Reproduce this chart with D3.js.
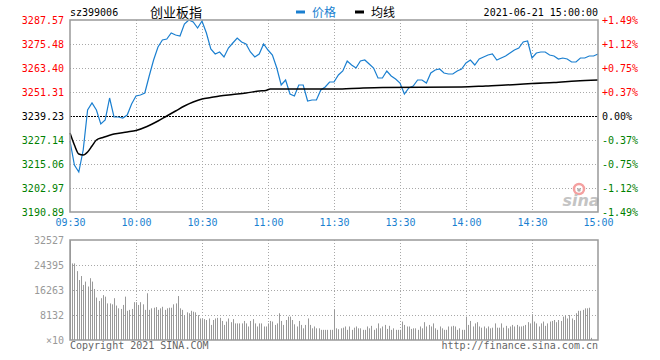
<!DOCTYPE html>
<html>
<head>
<meta charset="utf-8">
<script src="https://cdn.jsdelivr.net/npm/d3@7/dist/d3.min.js"></script>
<style>
  body { margin: 0; background: #fff; }
  svg { display: block; }
  text { font-family: "DejaVu Sans Mono", "Liberation Mono", monospace; font-size: 10px; }
</style>
</head>
<body>
<div id="chart"></div>
<script>
const prevClose = 3239.23;
const priceTicks = [3287.57, 3275.48, 3263.40, 3251.31, 3239.23, 3227.14, 3215.06, 3202.97, 3190.89];
const pctTicks = ['+1.49%', '+1.12%', '+0.75%', '+0.37%', '0.00%', '-0.37%', '-0.75%', '-1.12%', '-1.49%'];
const timeTicks = [0, 30, 60, 90, 120, 150, 180, 210, 240];
const timeLabels = ['09:30', '10:00', '10:30', '11:00', '11:30', '13:30', '14:00', '14:30', '15:00'];
const volTicks = [32527, 24395, 16263, 8132, 0];
const volLabels = ['32527', '24395', '16263', '8132', '×10'];

// price, one sample every 2 minutes (09:30 .. 15:00)
const priceAM = [
  3226.64, 3214.56, 3211.03, 3222.11, 3242.25, 3245.78, 3242.25, 3235.20, 3237.22, 3248.29,
  3238.73, 3238.73, 3238.22, 3239.73, 3245.27, 3249.30, 3249.80, 3250.81, 3259.37, 3267.43,
  3273.97, 3277.50, 3278.00, 3281.02, 3280.02, 3279.51, 3285.56, 3287.57, 3286.56, 3283.54,
  3287.07, 3281.02, 3272.97, 3270.45, 3271.46, 3268.94, 3273.47, 3275.99, 3278.51, 3276.49,
  3275.48, 3271.46, 3268.94, 3270.45, 3275.48, 3272.46, 3269.95, 3263.40, 3254.84, 3257.36,
  3250.31, 3249.30, 3254.84, 3254.84, 3246.78, 3247.29, 3247.29, 3252.32, 3253.83, 3256.35,
  3256.35
];
const pricePM = [
  3259.88, 3261.89, 3266.92, 3264.91, 3263.40, 3266.92, 3267.43, 3265.41, 3263.40, 3258.36,
  3258.36, 3261.89, 3259.37, 3257.86, 3255.85, 3250.31, 3253.33, 3254.34, 3257.36, 3257.36,
  3255.85, 3260.88, 3262.39, 3262.90, 3260.88, 3260.38, 3260.38, 3261.89, 3262.90, 3265.92,
  3267.43, 3264.91, 3267.93, 3268.94, 3269.95, 3270.45, 3267.43, 3268.44, 3269.44, 3270.95,
  3272.46, 3273.47, 3276.49, 3277.00, 3268.44, 3270.95, 3271.46, 3271.46, 3269.95, 3269.44,
  3267.93, 3268.44, 3267.93, 3266.42, 3266.42, 3268.44, 3268.44, 3269.44, 3269.44, 3270.45
];
const price = priceAM.concat(pricePM);

// average price line
const avgMinutes = [0, 2, 4, 6, 8, 10, 12, 15, 20, 26, 30, 35, 40, 44, 48, 52, 56, 60, 64, 68,
  74, 80, 86, 89, 91, 100, 120, 128, 142, 178, 189, 203, 210, 220, 230, 240];
const avgPrice = [3230.67, 3224.63, 3220.10, 3219.59, 3221.10, 3224.12, 3227.15, 3228.40, 3230.17,
  3231.17, 3231.93, 3233.94, 3236.71, 3239.23, 3241.75, 3244.27, 3246.28, 3247.79, 3248.55, 3249.30,
  3250.06, 3250.81, 3251.82, 3252.07, 3252.83, 3252.83, 3252.83, 3253.08, 3253.58, 3253.83, 3254.34,
  3255.09, 3255.60, 3256.10, 3256.85, 3257.36];

// volume per minute (×10)
const volume = [
  32527,
  24900, 24900, 22400, 19500, 20800, 17900, 19000, 17400, 20100, 19000,
  16600, 13800, 12700, 13600, 14600, 14100, 11900, 11900, 11600, 13600,
  11200, 10300, 10100, 11400, 14100, 9500, 9800, 10100, 12300, 12300,
  11400, 12300, 11600, 9800, 15200, 9800, 10300, 10500, 10700, 9800,
  10300, 10800, 9800, 10300, 10500, 10500, 11600, 11900, 14300, 10300,
  9800, 8100, 9000, 8700, 9500, 9200, 9000, 8100, 7000, 6800,
  6800, 6500, 7000, 4900, 6500, 7000, 7200, 7200, 6200, 4900,
  6000, 7000, 5800, 6800, 5400, 5400, 5400, 5400, 6200, 5400,
  4400, 6200, 6800, 5400, 4400, 5400, 5400, 4400, 4400, 5400,
  6200, 6000, 4900, 5400, 8700, 6200, 4900, 6500, 7600, 7600,
  6500, 5100, 4400, 6200, 4900, 3800, 4900, 7000, 4900, 3800,
  4400, 3800, 3800, 3300, 3300, 3300, 3300, 3300, 3300, 9800,
  3800, 3500, 3800, 4000, 4400, 3300, 4400, 3300, 4000, 4400,
  3800, 3800, 3300, 3300, 4400, 3800, 4600, 3300, 3800, 5400,
  3800, 4400, 4900, 3600, 4600, 3300, 3800, 3300, 3300, 3300,
  6000, 4900, 4400, 4400, 3600, 3800, 3800, 3300, 4400, 3800,
  5800, 4400, 4900, 4400, 5400, 3800, 3300, 4400, 3800, 3300,
  3300, 4400, 4400, 4600, 4400, 3300, 3800, 3300, 3300, 7600,
  4900, 6200, 4400, 5400, 5800, 4400, 4000, 4400, 3800, 4400,
  3800, 4000, 5400, 4000, 4000, 5400, 4000, 4600, 3800, 4400,
  4900, 4400, 4900, 4400, 4400, 4600, 4900, 5800, 5400, 8400,
  6000, 5400, 4400, 5400, 6000, 4600, 5400, 6000, 6200, 6500,
  5800, 6500, 6200, 7600, 7900, 7000, 8100, 7000, 6500, 8700,
  9500, 9500, 9800, 10300, 10300, 10500, 700, 0, 0, 0
];

const W = 660, H = 360;
const left = 70, right = 598;
const pTop = 20, pBottom = 212;
const vTop = 240, vBottom = 340;
const blue = '#1a7fd0';
const red = '#ff0000';
const green = '#008000';
const gridColor = '#a8a8a8';

const svg = d3.select('#chart').append('svg')
  .attr('width', W).attr('height', H);

const x = d3.scaleLinear().domain([0, 240]).range([left, right]);
const y = d3.scaleLinear().domain([3190.89, 3287.57]).range([pBottom, pTop]);
const yv = d3.scaleLinear().domain([0, 32527]).range([vBottom, vTop]);

const colorOf = v => v > prevClose + 0.001 ? red : (v < prevClose - 0.001 ? green : '#000');

// ---- header
svg.append('text').attr('x', 70).attr('y', 16).attr('fill', '#000').text('sz399006');
svg.append('text').attr('x', 176).attr('y', 17).attr('text-anchor', 'middle')
  .style('font-family', '"Noto Sans CJK SC", sans-serif').style('font-size', '13px')
  .attr('fill', '#000').text('创业板指');

const legend = [
  { label: '价格', color: blue, x: 296 },
  { label: '均线', color: '#000', x: 355 }
];
const lg = svg.append('g').selectAll('g').data(legend).enter().append('g');
lg.append('line')
  .attr('x1', d => d.x).attr('x2', d => d.x + 9)
  .attr('y1', 12).attr('y2', 12)
  .attr('stroke', d => d.color).attr('stroke-width', 3);
lg.append('text')
  .attr('x', d => d.x + 16).attr('y', 17)
  .style('font-family', '"Noto Sans CJK SC", sans-serif').style('font-size', '12px')
  .attr('fill', d => d.color).text(d => d.label);

svg.append('text').attr('x', right).attr('y', 16).attr('text-anchor', 'end')
  .attr('fill', '#000').text('2021-06-21 15:00:00');

// ---- price panel grid
const pg = svg.append('g');
pg.selectAll('line.h').data(priceTicks.filter(v => v !== prevClose && v !== priceTicks[0] && v !== priceTicks[8]))
  .enter().append('line').attr('class', 'h')
  .attr('x1', left).attr('x2', right)
  .attr('y1', d => Math.round(y(d)) + 0.5).attr('y2', d => Math.round(y(d)) + 0.5)
  .attr('stroke', gridColor).attr('stroke-dasharray', '1,2');
pg.selectAll('line.v').data(timeTicks.slice(1, -1))
  .enter().append('line').attr('class', 'v')
  .attr('x1', d => Math.round(x(d)) + 0.5).attr('x2', d => Math.round(x(d)) + 0.5)
  .attr('y1', pTop).attr('y2', pBottom)
  .attr('stroke', gridColor).attr('stroke-dasharray', '1,2');
pg.append('line')
  .attr('x1', left).attr('x2', right)
  .attr('y1', Math.round(y(prevClose)) + 0.5).attr('y2', Math.round(y(prevClose)) + 0.5)
  .attr('stroke', '#000').attr('stroke-dasharray', '2,1');

// watermark
const wm = svg.append('g');
wm.append('circle').attr('cx', 579).attr('cy', 189).attr('r', 5)
  .attr('fill', 'none').attr('stroke', '#f4a0a0').attr('stroke-width', 2.5);
wm.append('circle').attr('cx', 579).attr('cy', 190).attr('r', 1.8).attr('fill', '#b0b0b0');
wm.append('text').attr('x', 581).attr('y', 206).attr('text-anchor', 'middle')
  .style('font-family', '"DejaVu Sans", sans-serif').style('font-size', '16px')
  .style('font-style', 'italic').style('font-weight', 'bold')
  .attr('fill', '#c4c4c4').text('sina');

// ---- lines
const priceLine = d3.line()
  .x((d, j) => x(j * 2))
  .y(d => y(d));
svg.append('path').datum(price)
  .attr('d', priceLine)
  .attr('fill', 'none').attr('stroke', blue).attr('stroke-width', 1.2);

const avgLine = d3.line()
  .x((d, j) => x(avgMinutes[j]))
  .y(d => y(d))
  .curve(d3.curveMonotoneX);
svg.append('path').datum(avgPrice)
  .attr('d', avgLine)
  .attr('fill', 'none').attr('stroke', '#000').attr('stroke-width', 1.5);

// frame
svg.append('rect').attr('x', left).attr('y', pTop)
  .attr('width', right - left).attr('height', pBottom - pTop)
  .attr('fill', 'none').attr('stroke', '#999').attr('stroke-width', 1.5);

// ---- price axes
const axL = svg.append('g').attr('transform', `translate(${left},0)`)
  .call(d3.axisLeft(y).tickValues(priceTicks).tickSize(0).tickPadding(6)
    .tickFormat(d => d.toFixed(2)));
axL.select('.domain').remove();
axL.selectAll('text').attr('fill', d => colorOf(d));

const axR = svg.append('g').attr('transform', `translate(${right},0)`)
  .call(d3.axisRight(y).tickValues(priceTicks).tickSize(0).tickPadding(4)
    .tickFormat((d, i) => pctTicks[i]));
axR.select('.domain').remove();
axR.selectAll('text').attr('fill', d => colorOf(d));

const axT = svg.append('g').attr('transform', `translate(0,${pBottom})`)
  .call(d3.axisBottom(x).tickValues(timeTicks).tickSize(0).tickPadding(7)
    .tickFormat((d, i) => timeLabels[i]));
axT.select('.domain').remove();
axT.selectAll('text').attr('fill', blue);

// ---- volume panel
const vg = svg.append('g');
vg.selectAll('line.h').data(volTicks.slice(1, -1))
  .enter().append('line').attr('class', 'h')
  .attr('x1', left).attr('x2', right)
  .attr('y1', d => Math.round(yv(d)) + 0.5).attr('y2', d => Math.round(yv(d)) + 0.5)
  .attr('stroke', gridColor).attr('stroke-dasharray', '1,2');
vg.selectAll('line.v').data(timeTicks.slice(1, -1))
  .enter().append('line').attr('class', 'v')
  .attr('x1', d => Math.round(x(d)) + 0.5).attr('x2', d => Math.round(x(d)) + 0.5)
  .attr('y1', vTop).attr('y2', vBottom)
  .attr('stroke', gridColor).attr('stroke-dasharray', '1,2');

vg.selectAll('line.bar').data(volume)
  .enter().append('line').attr('class', 'bar')
  .attr('x1', (d, i) => Math.round(x(i)) + 0.5).attr('x2', (d, i) => Math.round(x(i)) + 0.5)
  .attr('y1', yv(0)).attr('y2', d => yv(d))
  .attr('stroke', '#999').attr('stroke-width', 1);

svg.append('rect').attr('x', left).attr('y', vTop)
  .attr('width', right - left).attr('height', vBottom - vTop)
  .attr('fill', 'none').attr('stroke', '#999').attr('stroke-width', 1.5);

const axV = svg.append('g').attr('transform', `translate(${left},0)`)
  .call(d3.axisLeft(yv).tickValues(volTicks).tickSize(0).tickPadding(6)
    .tickFormat((d, i) => volLabels[i]));
axV.select('.domain').remove();
axV.selectAll('text').attr('fill', '#999');

// footer
svg.append('text').attr('x', left).attr('y', 349).attr('fill', '#666')
  .text('Copyright 2021 SINA.COM');
svg.append('text').attr('x', right).attr('y', 349).attr('text-anchor', 'end').attr('fill', '#666')
  .text('http://finance.sina.com.cn');
</script>
</body>
</html>
